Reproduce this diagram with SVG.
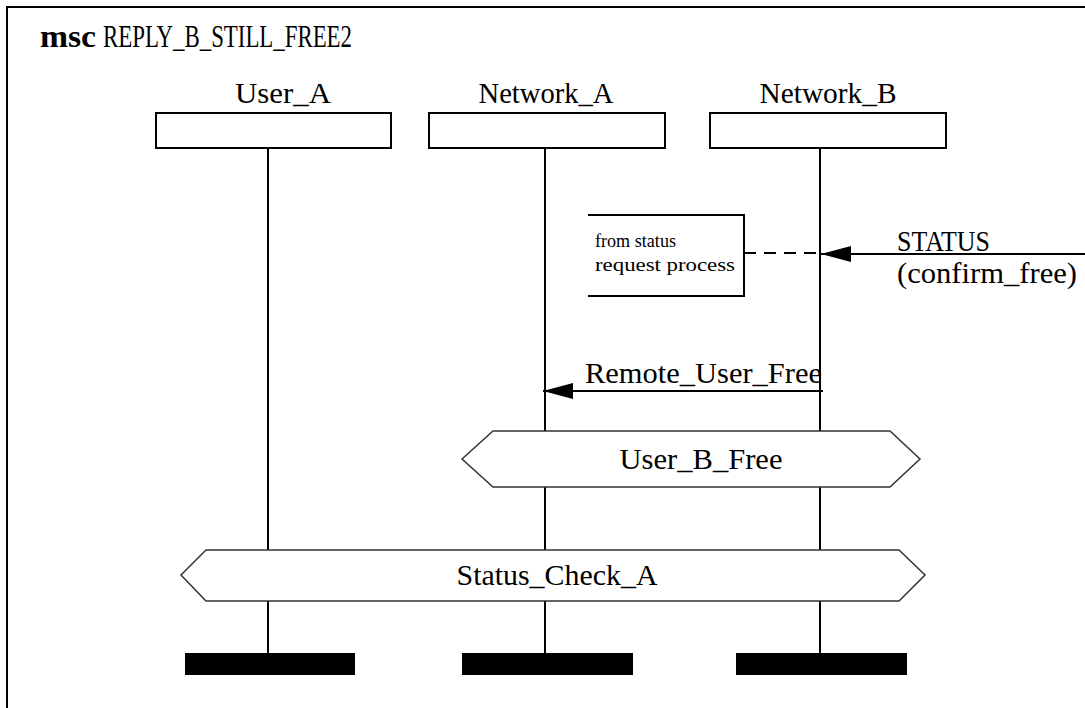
<svg xmlns="http://www.w3.org/2000/svg" width="1085" height="708" viewBox="0 0 1085 708" font-family="'Liberation Serif', 'Times New Roman', Times, serif">
<style>
text{font-family:'Liberation Serif','Times New Roman',Times,serif;fill:#000}
.lbl{font-size:29px}
.small{font-size:18px}
.box{fill:#fff;stroke:#000;stroke-width:2}
.life{stroke:#000;stroke-width:2}
.hex{fill:#fff;stroke:#333;stroke-width:1.5}
.end{fill:#000}
</style>
<defs>
<marker id="ah" markerWidth="30" markerHeight="16" refX="30" refY="8" orient="auto" markerUnits="userSpaceOnUse">
<path d="M0,0 L30,8 L0,16 Z" fill="#000"/>
</marker>
</defs>
<rect x="0" y="0" width="1085" height="708" fill="#fff"/>
<rect x="7" y="7" width="1090" height="720" fill="none" stroke="#000" stroke-width="2"/>
<g id="title">
<text x="40" y="47" font-size="31" font-weight="bold" textLength="56" lengthAdjust="spacingAndGlyphs">msc</text>
<text x="103" y="47" font-size="31" textLength="249" lengthAdjust="spacingAndGlyphs">REPLY_B_STILL_FREE2</text>
</g>
<g id="lifelines">
<line class="life" x1="268" y1="148" x2="268" y2="653"/>
<line class="life" x1="545" y1="148" x2="545" y2="653"/>
<line class="life" x1="820" y1="148" x2="820" y2="653"/>
</g>
<g id="User_A">
<text class="lbl" x="283" y="103" text-anchor="middle" textLength="96" lengthAdjust="spacingAndGlyphs">User_A</text>
<rect class="box" x="156" y="113" width="235" height="35"/>
<rect class="end" x="185" y="653" width="170" height="22"/>
</g>
<g id="Network_A">
<text class="lbl" x="546" y="103" text-anchor="middle" textLength="135" lengthAdjust="spacingAndGlyphs">Network_A</text>
<rect class="box" x="429" y="113" width="236" height="35"/>
<rect class="end" x="462" y="653" width="171" height="22"/>
</g>
<g id="Network_B">
<text class="lbl" x="828" y="103" text-anchor="middle" textLength="137" lengthAdjust="spacingAndGlyphs">Network_B</text>
<rect class="box" x="710" y="113" width="236" height="35"/>
<rect class="end" x="736" y="653" width="171" height="22"/>
</g>
<g id="comment">
<path d="M588,215 L744,215 L744,296 L588,296" fill="#fff" stroke="#000" stroke-width="2"/>
<text class="small" x="595" y="247" textLength="81" lengthAdjust="spacingAndGlyphs">from status</text>
<text class="small" x="595" y="271" textLength="140" lengthAdjust="spacingAndGlyphs">request process</text>
</g>
<g id="connectors">
<line x1="744" y1="253" x2="820" y2="253" stroke="#000" stroke-width="2" stroke-dasharray="12,8"/>
<line x1="1085" y1="254" x2="821" y2="254" stroke="#000" stroke-width="2" marker-end="url(#ah)"/>
<text class="lbl" x="897" y="251" textLength="93" lengthAdjust="spacingAndGlyphs">STATUS</text>
<text class="lbl" x="897" y="283" textLength="180" lengthAdjust="spacingAndGlyphs">(confirm_free)</text>
<line x1="823" y1="391" x2="543" y2="391" stroke="#000" stroke-width="2" marker-end="url(#ah)"/>
<text class="lbl" x="585" y="383" textLength="237" lengthAdjust="spacingAndGlyphs">Remote_User_Free</text>
</g>
<g id="User_B_Free">
<polygon class="hex" points="462,459 493,431 890,431 920,459 890,487 493,487"/>
<text class="lbl" x="701" y="469" text-anchor="middle" textLength="163" lengthAdjust="spacingAndGlyphs">User_B_Free</text>
</g>
<g id="Status_Check_A">
<polygon class="hex" points="181,575 206,550 899,550 925,575 899,601 206,601"/>
<text class="lbl" x="557" y="585" text-anchor="middle" textLength="201" lengthAdjust="spacingAndGlyphs">Status_Check_A</text>
</g>
</svg>
